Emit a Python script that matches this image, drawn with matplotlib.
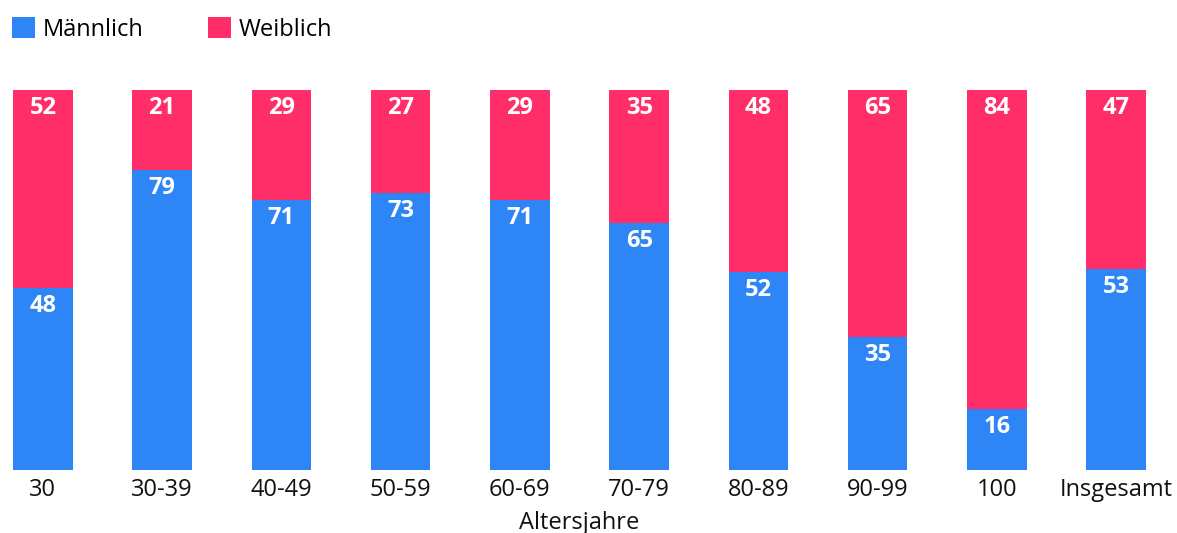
import matplotlib
matplotlib.use("Agg")
import matplotlib.pyplot as plt
import numpy as np

plt.rcParams['font.family'] = ['Open Sans', 'DejaVu Sans']

categories = ["30", "30-39", "40-49", "50-59", "60-69", "70-79", "80-89", "90-99", "100", "Insgesamt"]
maennlich = [48, 79, 71, 73, 71, 65, 52, 35, 16, 53]
weiblich = [52, 21, 29, 27, 29, 35, 48, 65, 84, 47]

blue = "#2E86F6"
pink = "#FF2E68"

W, H = 1177, 533
fig = plt.figure(figsize=(W / 100, H / 100), dpi=100)
ax = fig.add_axes([13 / W, (H - 470) / H, (1146 - 13) / W, (470 - 90) / H])

x = np.arange(len(categories))
b1 = ax.bar(x, maennlich, width=0.5, color=blue, label="Männlich")
b2 = ax.bar(x, weiblich, width=0.5, bottom=maennlich, color=pink, label="Weiblich")

for xi, m, w in zip(x, maennlich, weiblich):
    ax.annotate(str(m), (xi, m), xytext=(0, -18), textcoords='offset pixels',
                ha='center', va='center', color='white', fontsize=17, fontweight='bold')
    ax.annotate(str(w), (xi, m + w), xytext=(0, -18), textcoords='offset pixels',
                ha='center', va='center', color='white', fontsize=17, fontweight='bold')

ax.set_xlim(-0.25, len(categories) - 0.75)
ax.set_ylim(0, 100)
ax.set_xticks(x)
ax.set_xticklabels(categories, fontsize=17, color='#111111')
ax.tick_params(axis='x', length=0, pad=6)
ax.set_yticks([])
for s in ax.spines.values():
    s.set_visible(False)
ax.set_xlabel("Altersjahre", fontsize=17, color='#111111', labelpad=6)

fig.legend(handles=[b1, b2], loc='upper left', bbox_to_anchor=(3 / W, 1 - 8 / H),
           ncol=2, frameon=False, fontsize=17, handlelength=0.95, handleheight=0.95,
           handletextpad=0.35, columnspacing=2.72, borderaxespad=0)

fig.savefig("out.png", dpi=100)
